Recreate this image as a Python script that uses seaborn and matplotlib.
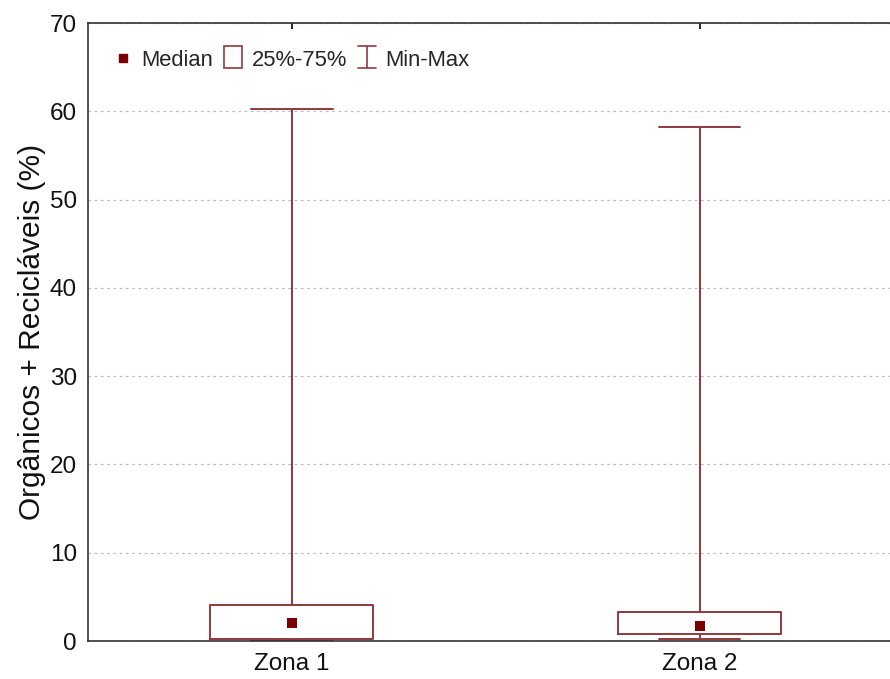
import matplotlib
matplotlib.use("Agg")
import matplotlib.pyplot as plt
import seaborn as sns
import pandas as pd
from matplotlib.legend_handler import HandlerBase
from matplotlib.lines import Line2D
from matplotlib.patches import Rectangle

zones = ["Zona 1", "Zona 2"]
mins = [0.05, 0.2]
q1s = [0.2, 0.8]
medians = [2.0, 1.7]
q3s = [4.1, 3.3]
maxs = [60.3, 58.2]
yticks = [0, 10, 20, 30, 40, 50, 60, 70]

rows = []
for z, a, b, c, d, e in zip(zones, mins, q1s, medians, q3s, maxs):
    for v in (a, b, c, d, e):
        rows.append({"zona": z, "valor": v})
df = pd.DataFrame(rows)
med_df = pd.DataFrame({"zona": zones, "valor": medians})

sns.set_theme(style="white")
plt.rcParams["font.family"] = ["Liberation Sans", "DejaVu Sans"]

edge = "#93393b"
medc = "#7a0000"

fig = plt.figure(figsize=(8.9, 6.79), dpi=100)
ax = fig.add_axes([88/890, 38/679, 815.5/890, 618/679])

sns.boxplot(data=df, x="zona", y="valor", whis=(0, 100), width=0.4,
            fill=False, color=edge, linewidth=1.4, showfliers=False,
            medianprops={"visible": False}, ax=ax)
sns.scatterplot(data=med_df, x="zona", y="valor", marker="s", s=55,
                color=medc, edgecolor=medc, linewidth=0, ax=ax, zorder=5)

ax.set_xlim(-0.5, 1.5)
ax.set_ylim(0, 70)
ax.set_yticks(yticks)
ax.set_xlabel("")
ax.set_ylabel("Orgânicos + Recicláveis (%)", fontsize=21.5, color="#111111", labelpad=3)
ax.tick_params(axis="both", labelsize=17.5, colors="#111111", length=4,
               direction="in", top=True)
ax.tick_params(axis="y", pad=8)
ax.tick_params(axis="x", pad=9)
ax.grid(axis="y", linestyle=(0, (2, 3)), color="#bbbbbb", linewidth=0.9)
ax.set_axisbelow(True)
for s in ["left", "bottom", "top", "right"]:
    ax.spines[s].set_color("#333333")
    ax.spines[s].set_linewidth(1.2)


class IHandler(HandlerBase):
    def create_artists(self, legend, orig_handle, xdescent, ydescent,
                       width, height, fontsize, trans):
        cx = width / 2 - xdescent
        w = width * 0.5
        y0 = -ydescent - 2
        y1 = height - ydescent + 3
        l1 = Line2D([cx, cx], [y0, y1], color=edge, lw=1.2, transform=trans)
        l2 = Line2D([cx - w, cx + w], [y0, y0], color=edge, lw=1.2, transform=trans)
        l3 = Line2D([cx - w, cx + w], [y1, y1], color=edge, lw=1.2, transform=trans)
        return [l1, l2, l3]


class BoxHandler(HandlerBase):
    def create_artists(self, legend, orig_handle, xdescent, ydescent,
                       width, height, fontsize, trans):
        w = width * 1.0
        r = Rectangle((width / 2 - w / 2 - xdescent, -ydescent - 2), w, height + 5,
                      facecolor="white", edgecolor=edge, lw=1.2, transform=trans)
        return [r]


class WhiskerProxy:
    pass


class BoxProxy:
    pass


h_med = Line2D([], [], marker="s", linestyle="none", color=medc, markersize=5.5)
leg = ax.legend([h_med, BoxProxy(), WhiskerProxy()], ["Median", "25%-75%", "Min-Max"],
                handler_map={WhiskerProxy: IHandler(), BoxProxy: BoxHandler()},
                loc="upper left", ncol=3, frameon=False, fontsize=15.8,
                handlelength=0.8, handletextpad=0.45, columnspacing=0.5,
                bbox_to_anchor=(0.008, 0.989))

fig.savefig("out.png", dpi=100)
